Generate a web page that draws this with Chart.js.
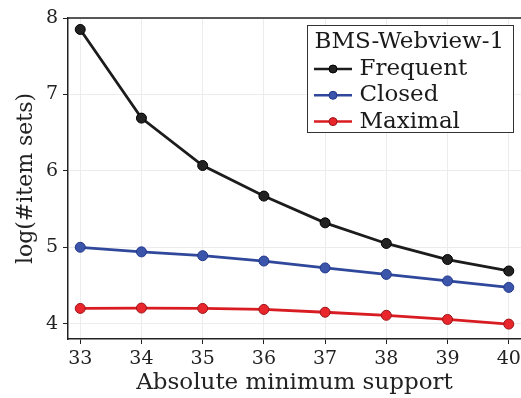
<!DOCTYPE html>
<html>
<head>
<meta charset="utf-8">
<script src="https://cdn.jsdelivr.net/npm/chart.js@4/dist/chart.umd.min.js"></script>
<style>
  html, body { margin: 0; padding: 0; background: #fff; }
  #wrap { width: 521px; height: 398px; }
</style>
</head>
<body>
<div id="wrap"><canvas id="chart"></canvas></div>
<script>
const supports = [33, 34, 35, 36, 37, 38, 39, 40];
const frequent = [7.85, 6.69, 6.07, 5.67, 5.32, 5.05, 4.84, 4.69];
const closed = [5.00, 4.94, 4.89, 4.82, 4.73, 4.645, 4.56, 4.475];
const maximal = [4.20, 4.205, 4.20, 4.187, 4.15, 4.11, 4.056, 3.995];
const yTicks = [4, 5, 6, 7, 8];
const legendTitle = 'BMS-Webview-1';

const FONT = '"DejaVu Serif", serif';

const series = [
    {label: 'Frequent', values: frequent, line: '#1c1c1c', fill: '#222222', edge: '#000000'},
    {label: 'Closed', values: closed, line: '#30489b', fill: '#3b55ab', edge: '#22378a'},
    {label: 'Maximal', values: maximal, line: '#d81c22', fill: '#e8262c', edge: '#9c1519'}
];

// frame on top of the plot (the right side runs off the canvas)
const framePlugin = {
    id: 'frame',
    afterDatasetsDraw(chart) {
        const a = chart.chartArea, ctx = chart.ctx;
        ctx.save();
        ctx.strokeStyle = '#222';
        ctx.lineWidth = 1.5;
        ctx.beginPath();
        ctx.moveTo(a.left, a.top);
        ctx.lineTo(a.right, a.top);
        ctx.stroke();
        ctx.restore();
    }
};

// boxed legend with a title, drawn inside the plot
const boxLegend = {
    id: 'boxLegend',
    afterDraw(chart) {
        const ctx = chart.ctx;
        const x0 = 307.5, y0 = 25.5, w = 206, h = 107;
        ctx.save();
        ctx.fillStyle = '#fff';
        ctx.fillRect(x0, y0, w, h);
        ctx.strokeStyle = '#333';
        ctx.lineWidth = 1;
        ctx.strokeRect(x0, y0, w, h);
        ctx.fillStyle = '#1a1a1a';
        ctx.textBaseline = 'middle';
        ctx.font = '23px ' + FONT;
        ctx.fillText(legendTitle, x0 + 7, y0 + 17);
        chart.data.datasets.forEach((ds, i) => {
            const y = y0 + 43.5 + i * 26.3;
            ctx.strokeStyle = ds.borderColor;
            ctx.lineWidth = 2.5;
            ctx.beginPath();
            ctx.moveTo(x0 + 6.5, y);
            ctx.lineTo(x0 + 44.5, y);
            ctx.stroke();
            ctx.beginPath();
            ctx.arc(x0 + 25.5, y, 4, 0, Math.PI * 2);
            ctx.fillStyle = ds.pointBackgroundColor;
            ctx.fill();
            ctx.strokeStyle = ds.pointBorderColor;
            ctx.lineWidth = 1;
            ctx.stroke();
            ctx.fillStyle = '#1a1a1a';
            ctx.fillText(ds.label, x0 + 52, y);
        });
        ctx.restore();
    }
};

const config = {
    type: 'line',
    data: {
        datasets: series.map(s => ({
            label: s.label,
            data: supports.map((x, i) => ({x: x, y: s.values[i]})),
            borderColor: s.line,
            borderWidth: 2.8,
            pointRadius: 5,
            pointBackgroundColor: s.fill,
            pointBorderColor: s.edge,
            pointBorderWidth: 1,
            tension: 0
        }))
    },
    options: {
        responsive: true,
        maintainAspectRatio: false,
        animation: false,
        layout: {
            autoPadding: false,
            padding: {top: 18, right: 0, left: 0, bottom: 0}
        },
        plugins: {
            legend: {display: false},
            tooltip: {enabled: false}
        },
        scales: {
            x: {
                type: 'linear',
                min: 32.8,
                max: 40.2,
                afterBuildTicks: (scale) => {
                    scale.ticks = supports.map(v => ({value: v}));
                },
                afterFit: (scale) => {
                    scale.height = 59;
                    scale.paddingLeft = 0;
                    scale.paddingRight = 0;
                },
                grid: {color: '#ececec', lineWidth: 1, tickLength: 5, tickColor: '#222'},
                border: {color: '#222', width: 1.5},
                ticks: {color: '#222', padding: 4, font: {family: FONT, size: 19}},
                title: {
                    display: true,
                    text: 'Absolute minimum support',
                    color: '#222',
                    padding: {top: 0, bottom: 1},
                    font: {family: FONT, size: 23}
                }
            },
            y: {
                min: 3.8,
                max: 8,
                afterBuildTicks: (scale) => {
                    scale.ticks = yTicks.map(v => ({value: v}));
                },
                afterFit: (scale) => {
                    scale.width = 68;
                    scale.paddingTop = 0;
                    scale.paddingBottom = 0;
                },
                grid: {color: '#ececec', lineWidth: 1, tickLength: 5, tickColor: '#222'},
                border: {color: '#222', width: 1.5},
                ticks: {color: '#222', padding: 5, font: {family: FONT, size: 19}},
                title: {
                    display: true,
                    text: 'log(#item sets)',
                    color: '#222',
                    padding: {top: 13, bottom: 0},
                    font: {family: FONT, size: 22}
                }
            }
        }
    },
    plugins: [framePlugin, boxLegend]
};

window.onload = () => {
    let ctx = document.getElementById('chart').getContext('2d');
    window.myChart = new Chart(ctx, config);
};
</script>
</body>
</html>
